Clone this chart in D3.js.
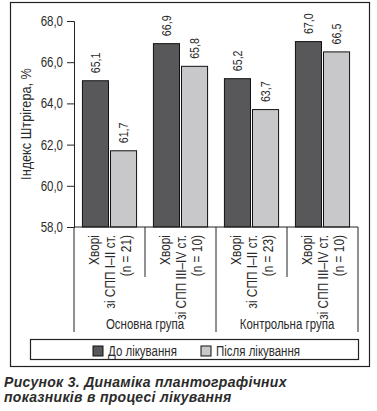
<!DOCTYPE html>
<html>
<head>
<meta charset="utf-8">
<script src="https://cdn.jsdelivr.net/npm/d3@7"></script>
<style>
  body { margin: 0; background: #fff; }
  svg text { font-family: "Liberation Sans", Arial, sans-serif; fill: #2b2b2b; }
  .caption { font-weight: bold; font-style: italic; }
</style>
</head>
<body>
<div class="chart"></div>
<script>
const categories = ["Хворі|зі СПП I–II ст.|(n = 21)", "Хворі|зі СПП III–IV ст.|(n = 10)",
                    "Хворі|зі СПП I–II ст.|(n = 23)", "Хворі|зі СПП III–IV ст.|(n = 10)"]
const groups = ["Основна група", "Контрольна група"]
const seriesNames = ["До лікування", "Після лікування"]
const beforeValues = [65.1, 66.9, 65.2, 67.0]
const afterValues = [61.7, 65.8, 63.7, 66.5]
const yTicks = [58, 60, 62, 64, 66, 68]

const width = 377, height = 411
const plot = { left: 74, right: 358, top: 21, bottom: 227 }
const narrow = "scale(0.82,1)"   // the original uses a narrow face

const color = { "До лікування": "#58585a", "Після лікування": "#c8c8ca" }

const data = categories.map((c, i) => ({ idx: i, cat: c, values: [
    { key: seriesNames[0], value: beforeValues[i] },
    { key: seriesNames[1], value: afterValues[i] }] }))

const fmt = v => d3.format(".1f")(v).replace(".", ",")

const svg = d3.select(".chart").append("svg")
    .attr("width", width)
    .attr("height", height)

// outer frame
svg.append("rect")
    .attr("x", 10.5).attr("y", 2.5)
    .attr("width", 359).attr("height", 364)
    .attr("fill", "none").attr("stroke", "#222").attr("stroke-width", 1.2)

const x = d3.scaleBand()
    .domain(d3.range(categories.length))
    .range([plot.left, plot.right])

const x1 = d3.scaleBand()
    .domain(seriesNames)
    .range([0, x.bandwidth()])
    .paddingInner(2 / 28)
    .paddingOuter(0.3)

const y = d3.scaleLinear()
    .domain([58, 68])
    .range([plot.bottom, plot.top])

// y axis
const yAxis = svg.append("g")
    .attr("transform", `translate(${plot.left},0)`)
    .call(d3.axisLeft(y).tickValues(yTicks).tickFormat(fmt).tickSize(7))
yAxis.select(".domain").attr("stroke", "#222")
yAxis.selectAll(".tick line").attr("stroke", "#222")
yAxis.selectAll(".tick text")
    .attr("x", null)
    .attr("transform", `translate(-11,0) ${narrow}`)
    .attr("font-size", 14)
    .attr("fill", "#2b2b2b")

svg.append("text")
    .attr("transform", `translate(31,${(plot.top + plot.bottom) / 2}) rotate(-90) ${narrow}`)
    .attr("text-anchor", "middle")
    .attr("font-size", 15.5)
    .text("Індекс Штрігера, %")

// bars
const cat = svg.append("g")
    .selectAll("g")
    .data(data)
    .join("g")
    .attr("transform", d => `translate(${x(d.idx)},0)`)

cat.selectAll("rect")
    .data(d => d.values)
    .join("rect")
    .attr("x", d => x1(d.key))
    .attr("y", d => y(d.value))
    .attr("width", x1.bandwidth())
    .attr("height", d => y(58) - y(d.value))
    .attr("fill", d => color[d.key])
    .attr("stroke", "#111")
    .attr("stroke-width", 1)

cat.selectAll(".val")
    .data(d => d.values)
    .join("text")
    .attr("class", "val")
    .attr("transform", d => `translate(${x1(d.key) + x1.bandwidth() / 2 + 4.5},${y(d.value) - 7.5}) rotate(-90) ${narrow}`)
    .attr("font-size", 13)
    .text(d => fmt(d.value))

// bottom axis line
svg.append("line")
    .attr("x1", plot.left).attr("x2", plot.right)
    .attr("y1", plot.bottom).attr("y2", plot.bottom)
    .attr("stroke", "#222")

// category separators
const bounds = d3.range(categories.length).map(i => x(i)).concat([plot.right])
svg.append("g")
    .selectAll("line")
    .data(bounds)
    .join("line")
    .attr("x1", d => d).attr("x2", d => d)
    .attr("y1", plot.bottom)
    .attr("y2", (d, i) => i % 2 === 0 ? 332 : 277)
    .attr("stroke", "#222")

// category labels
cat.each(function (d) {
    const lines = d.cat.split("|")
    const c = x.bandwidth() / 2
    d3.select(this).selectAll(".cl")
        .data(lines)
        .join("text")
        .attr("class", "cl")
        .attr("transform", (t, i) => `translate(${c + (i - 1) * 16 + 5},${plot.bottom + 8}) rotate(-90) ${narrow}`)
        .attr("text-anchor", "end")
        .attr("font-size", 14.5)
        .text(t => t)
})

// group labels
svg.append("g")
    .selectAll("text")
    .data(groups)
    .join("text")
    .attr("transform", (g, i) => `translate(${(x(i * 2) + x(i * 2 + 1) + x.bandwidth()) / 2},329) ${narrow}`)
    .attr("text-anchor", "middle")
    .attr("font-size", 14)
    .text(g => g)

// legend
svg.append("rect")
    .attr("x", 30.5).attr("y", 339.5)
    .attr("width", 328).attr("height", 20)
    .attr("fill", "none").attr("stroke", "#222").attr("stroke-width", 1.2)

const legendX = [93, 201]
const legend = svg.append("g")
    .selectAll("g")
    .data(seriesNames)
    .join("g")
    .attr("transform", (d, i) => `translate(${legendX[i]},346)`)
legend.append("rect")
    .attr("width", 10).attr("height", 10)
    .attr("fill", d => color[d])
    .attr("stroke", "#111")
legend.append("text")
    .attr("transform", `translate(15,10) ${narrow}`)
    .attr("font-size", 14)
    .text(d => d)

// caption
svg.append("g")
    .selectAll("text")
    .data(["Рисунок 3. Динаміка плантографічних", "показників в процесі лікування"])
    .join("text")
    .attr("class", "caption")
    .attr("x", 4)
    .attr("y", (d, i) => 387 + i * 15)
    .attr("font-size", 14)
    .attr("letter-spacing", 0.3)
    .attr("fill", "#231f20")
    .text(d => d)
</script>
</body>
</html>
